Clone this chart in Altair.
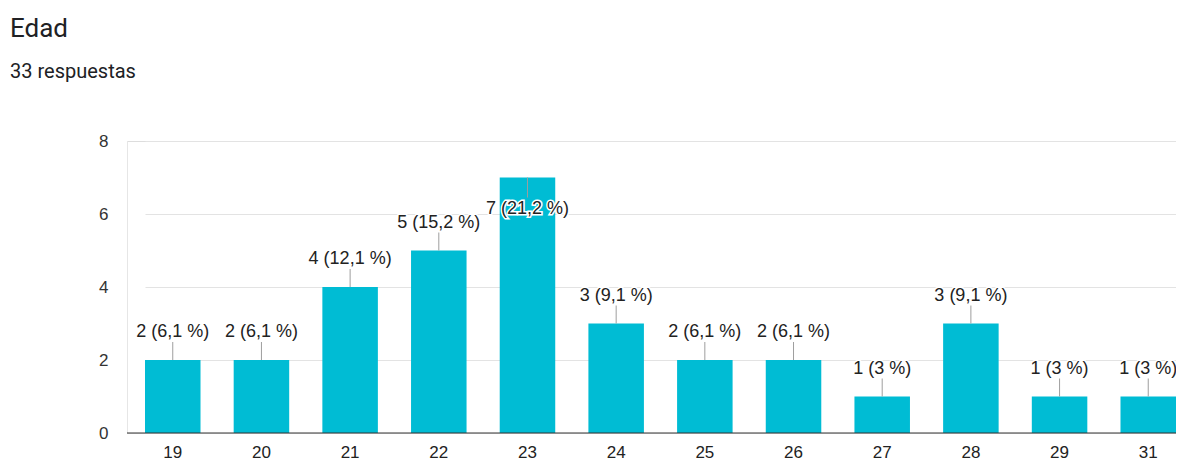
import altair as alt
import pandas as pd

# ---- data ----
ages = ["19", "20", "21", "22", "23", "24", "25", "26", "27", "28", "29", "31"]
counts = [2, 2, 4, 5, 7, 3, 2, 2, 1, 3, 1, 1]
total = 33
title_text = "Edad"
subtitle_text = "33 respuestas"
y_ticks = [0, 1, 2, 3, 4, 5, 6, 7, 8]

labels = []
for c in counts:
    pct = round(c / total * 100, 1)
    labels.append(f"{c} ({f'{pct:g}'.replace('.', ',')} %)")

df = pd.DataFrame({"age": ages, "count": counts, "label": labels})
top_count = max(counts)

BAR = "#00bcd4"
LABEL_FONT = "Liberation Sans"
PLOT_W = 1049
PLOT_H = 292

x = alt.X(
    "age:N",
    sort=None,
    scale=alt.Scale(range=[18, 1049], paddingInner=0.374, paddingOuter=0, round=False),
    axis=alt.Axis(
        title=None, labelAngle=0, ticks=False, tickSize=0, grid=False,
        domain=False, labelFont=LABEL_FONT,
        labelFontSize=17, labelColor="#222222", labelPadding=11,
    ),
)
y = alt.Y(
    "count:Q",
    scale=alt.Scale(domain=[0, 8], nice=False),
    axis=alt.Axis(
        title=None, values=y_ticks, ticks=False, tickSize=0,
        labelExpr="datum.value % 2 == 0 ? datum.label : ''",
        gridColor={"condition": {"test": "datum.value % 2 == 0", "value": "#e3e3e3"},
                   "value": "#f3f3f3"},
        domainColor="#e6e6e6", labelFont=LABEL_FONT, labelFontSize=17,
        labelColor="#333333", labelPadding=19,
    ),
)

base = alt.Chart(df)

bars = base.mark_bar(color=BAR).encode(x=x, y=y)

above = base.transform_filter(alt.datum["count"] < top_count)
inside = base.transform_filter(alt.datum["count"] >= top_count)

rule_above = above.mark_rule(color="#9e9e9e", y2Offset=-18).encode(
    x="age:N", y="count:Q", y2="count:Q")
rule_inside = inside.mark_rule(color="#9e9e9e", y2Offset=20).encode(
    x="age:N", y="count:Q", y2="count:Q")

baseline = alt.Chart(pd.DataFrame({"v": [0]})).mark_rule(color="#333333").encode(
    y="v:Q", x=alt.value(0), x2=alt.value(PLOT_W))

def label_layers(src, dy):
    halo = src.mark_text(dy=dy, font=LABEL_FONT, fontSize=18, baseline="middle",
                         fill="white", stroke="white", strokeWidth=3).encode(
        x="age:N", y="count:Q", text="label:N")
    txt = src.mark_text(dy=dy, font=LABEL_FONT, fontSize=18, baseline="middle",
                        color="#222222").encode(
        x="age:N", y="count:Q", text="label:N")
    return [halo, txt]

layers = ([bars, baseline, rule_above, rule_inside]
          + label_layers(above, -28) + label_layers(inside, 31))

chart = alt.layer(*layers).properties(
    width=PLOT_W,
    height=PLOT_H,
    title=alt.Title(
        title_text, subtitle=subtitle_text, anchor="start", frame="group",
        dx=-117, offset=50, font="Roboto", fontSize=26, fontWeight="normal",
        color="#202124", subtitleFont="Roboto", subtitleFontSize=20,
        subtitleColor="#202124", subtitlePadding=20,
    ),
    autosize=alt.AutoSizeParams(type="none"),
    padding={"left": 119, "top": 133, "right": 0, "bottom": 30},
).configure_view(stroke=None).configure(background="white")

chart.save("out.html", embed_options={"renderer": "svg", "actions": False})
